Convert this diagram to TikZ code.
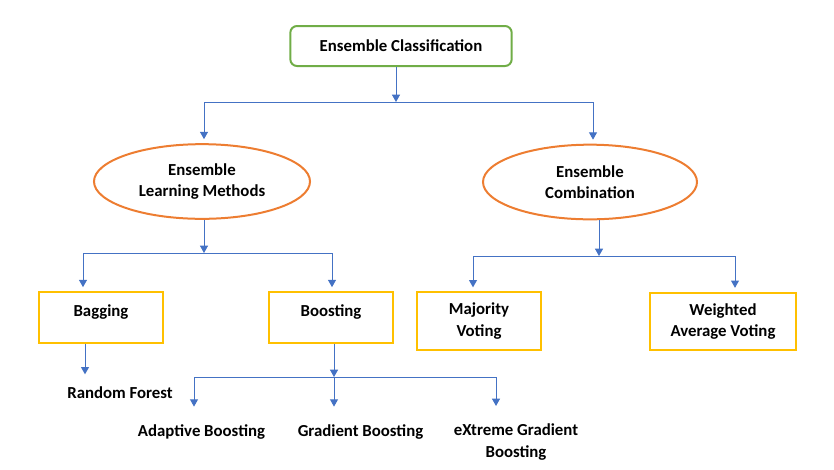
\documentclass[tikz,border=0pt]{standalone}
\usepackage{fontspec}
\setmainfont{Carlito}
\usetikzlibrary{arrows.meta, shapes.geometric}
\definecolor{clsgreen}{HTML}{70AD47}
\definecolor{ensorange}{HTML}{ED7D31}
\definecolor{algyellow}{HTML}{FFC000}
\definecolor{linkblue}{HTML}{4472C4}

\begin{document}
\begin{tikzpicture}[x=0.75pt, y=-0.75pt,
    font=\bfseries\fontsize{12.6pt}{16pt}\selectfont,
    rootbox/.style={draw=clsgreen, line width=1.5pt, rounded corners=5pt,
        minimum width=166pt, minimum height=30pt},
    ens/.style={draw=ensorange, line width=1.5pt, ellipse, align=center,
        minimum width=162pt, minimum height=56pt, inner sep=0pt},
    algbox/.style={draw=algyellow, line width=1.5pt, align=center},
    toptext/.style={text height=9pt, text depth=11pt},
    leaf/.style={align=center},
    link/.style={draw=linkblue, line width=0.75pt},
    arr/.style={link, -{Triangle[width=6pt, length=5.5pt]}}]
    \useasboundingbox (0,0) rectangle (834,469);

    % nodes
    \node [rootbox] (cls) at (401,46) {Ensemble Classification};
    \node [ens] (elm) at (202,181.5) {Ensemble\\Learning Methods};
    \node [ens, minimum width=160.5pt] (ecb) at (590,182) {Ensemble\\Combination};
    \node [algbox, toptext, minimum width=93pt, minimum height=38pt] (bag) at (101,317.5) {Bagging};
    \node [algbox, toptext, minimum width=93pt, minimum height=38pt] (boo) at (331,317.5) {Boosting};
    \node [algbox, minimum width=93pt, minimum height=43pt] (maj) at (479,321) {Majority\\Voting};
    \node [algbox, minimum width=109pt, minimum height=43pt] (wav) at (723,321.5) {Weighted\\Average Voting};
    \node [leaf] (rf) at (120,393) {Random Forest};
    \node [leaf] (ada) at (201.5,432) {Adaptive Boosting};
    \node [leaf] (grb) at (360.5,432) {Gradient Boosting};
    \node [leaf] (xgb) at (516,442) {eXtreme Gradient\\Boosting};

    % junctions
    \coordinate (j1) at (396,102);
    \coordinate (j1a) at (204,102);
    \coordinate (j1b) at (593,102);
    \coordinate (j2) at (204,253);
    \coordinate (j2a) at (83,253);
    \coordinate (j2b) at (332,253);
    \coordinate (j3) at (599,256);
    \coordinate (j3a) at (473,256);
    \coordinate (j3b) at (735,256);
    \coordinate (j4) at (334,377);
    \coordinate (j4a) at (194,377);
    \coordinate (j4b) at (496,377);

    % connectors
    \draw [arr] (cls.south -| j1) -- (j1);
    \draw [link] (j1a) -- (j1b);
    \draw [arr, shorten >=3pt] (j1a) -- (j1a |- elm.north);
    \draw [arr, shorten >=3pt] (j1b) -- (j1b |- ecb.north);

    \draw [arr] (elm.south -| j2) -- (j2);
    \draw [link] (j2a) -- (j2b);
    \draw [arr, shorten >=3pt] (j2a) -- (j2a |- bag.north);
    \draw [arr, shorten >=3pt] (j2b) -- (j2b |- boo.north);

    \draw [arr] (ecb.south -| j3) -- (j3);
    \draw [link] (j3a) -- (j3b);
    \draw [arr, shorten >=3pt] (j3a) -- (j3a |- maj.north);
    \draw [arr, shorten >=3pt] (j3b) -- (j3b |- wav.north);

    \draw [arr, shorten >=6pt] (bag.south -| 85,0) -- (85,0 |- rf.north);

    \draw [arr] (boo.south -| j4) -- (j4);
    \draw [link] (j4a) -- (j4b);
    \draw [arr, shorten >=10pt] (j4a) -- (j4a |- ada.north);
    \draw [arr, shorten >=10pt] (j4) -- (j4 |- grb.north);
    \draw [arr, shorten >=10pt] (j4b) -- (j4b |- xgb.north);
\end{tikzpicture}
\end{document}
